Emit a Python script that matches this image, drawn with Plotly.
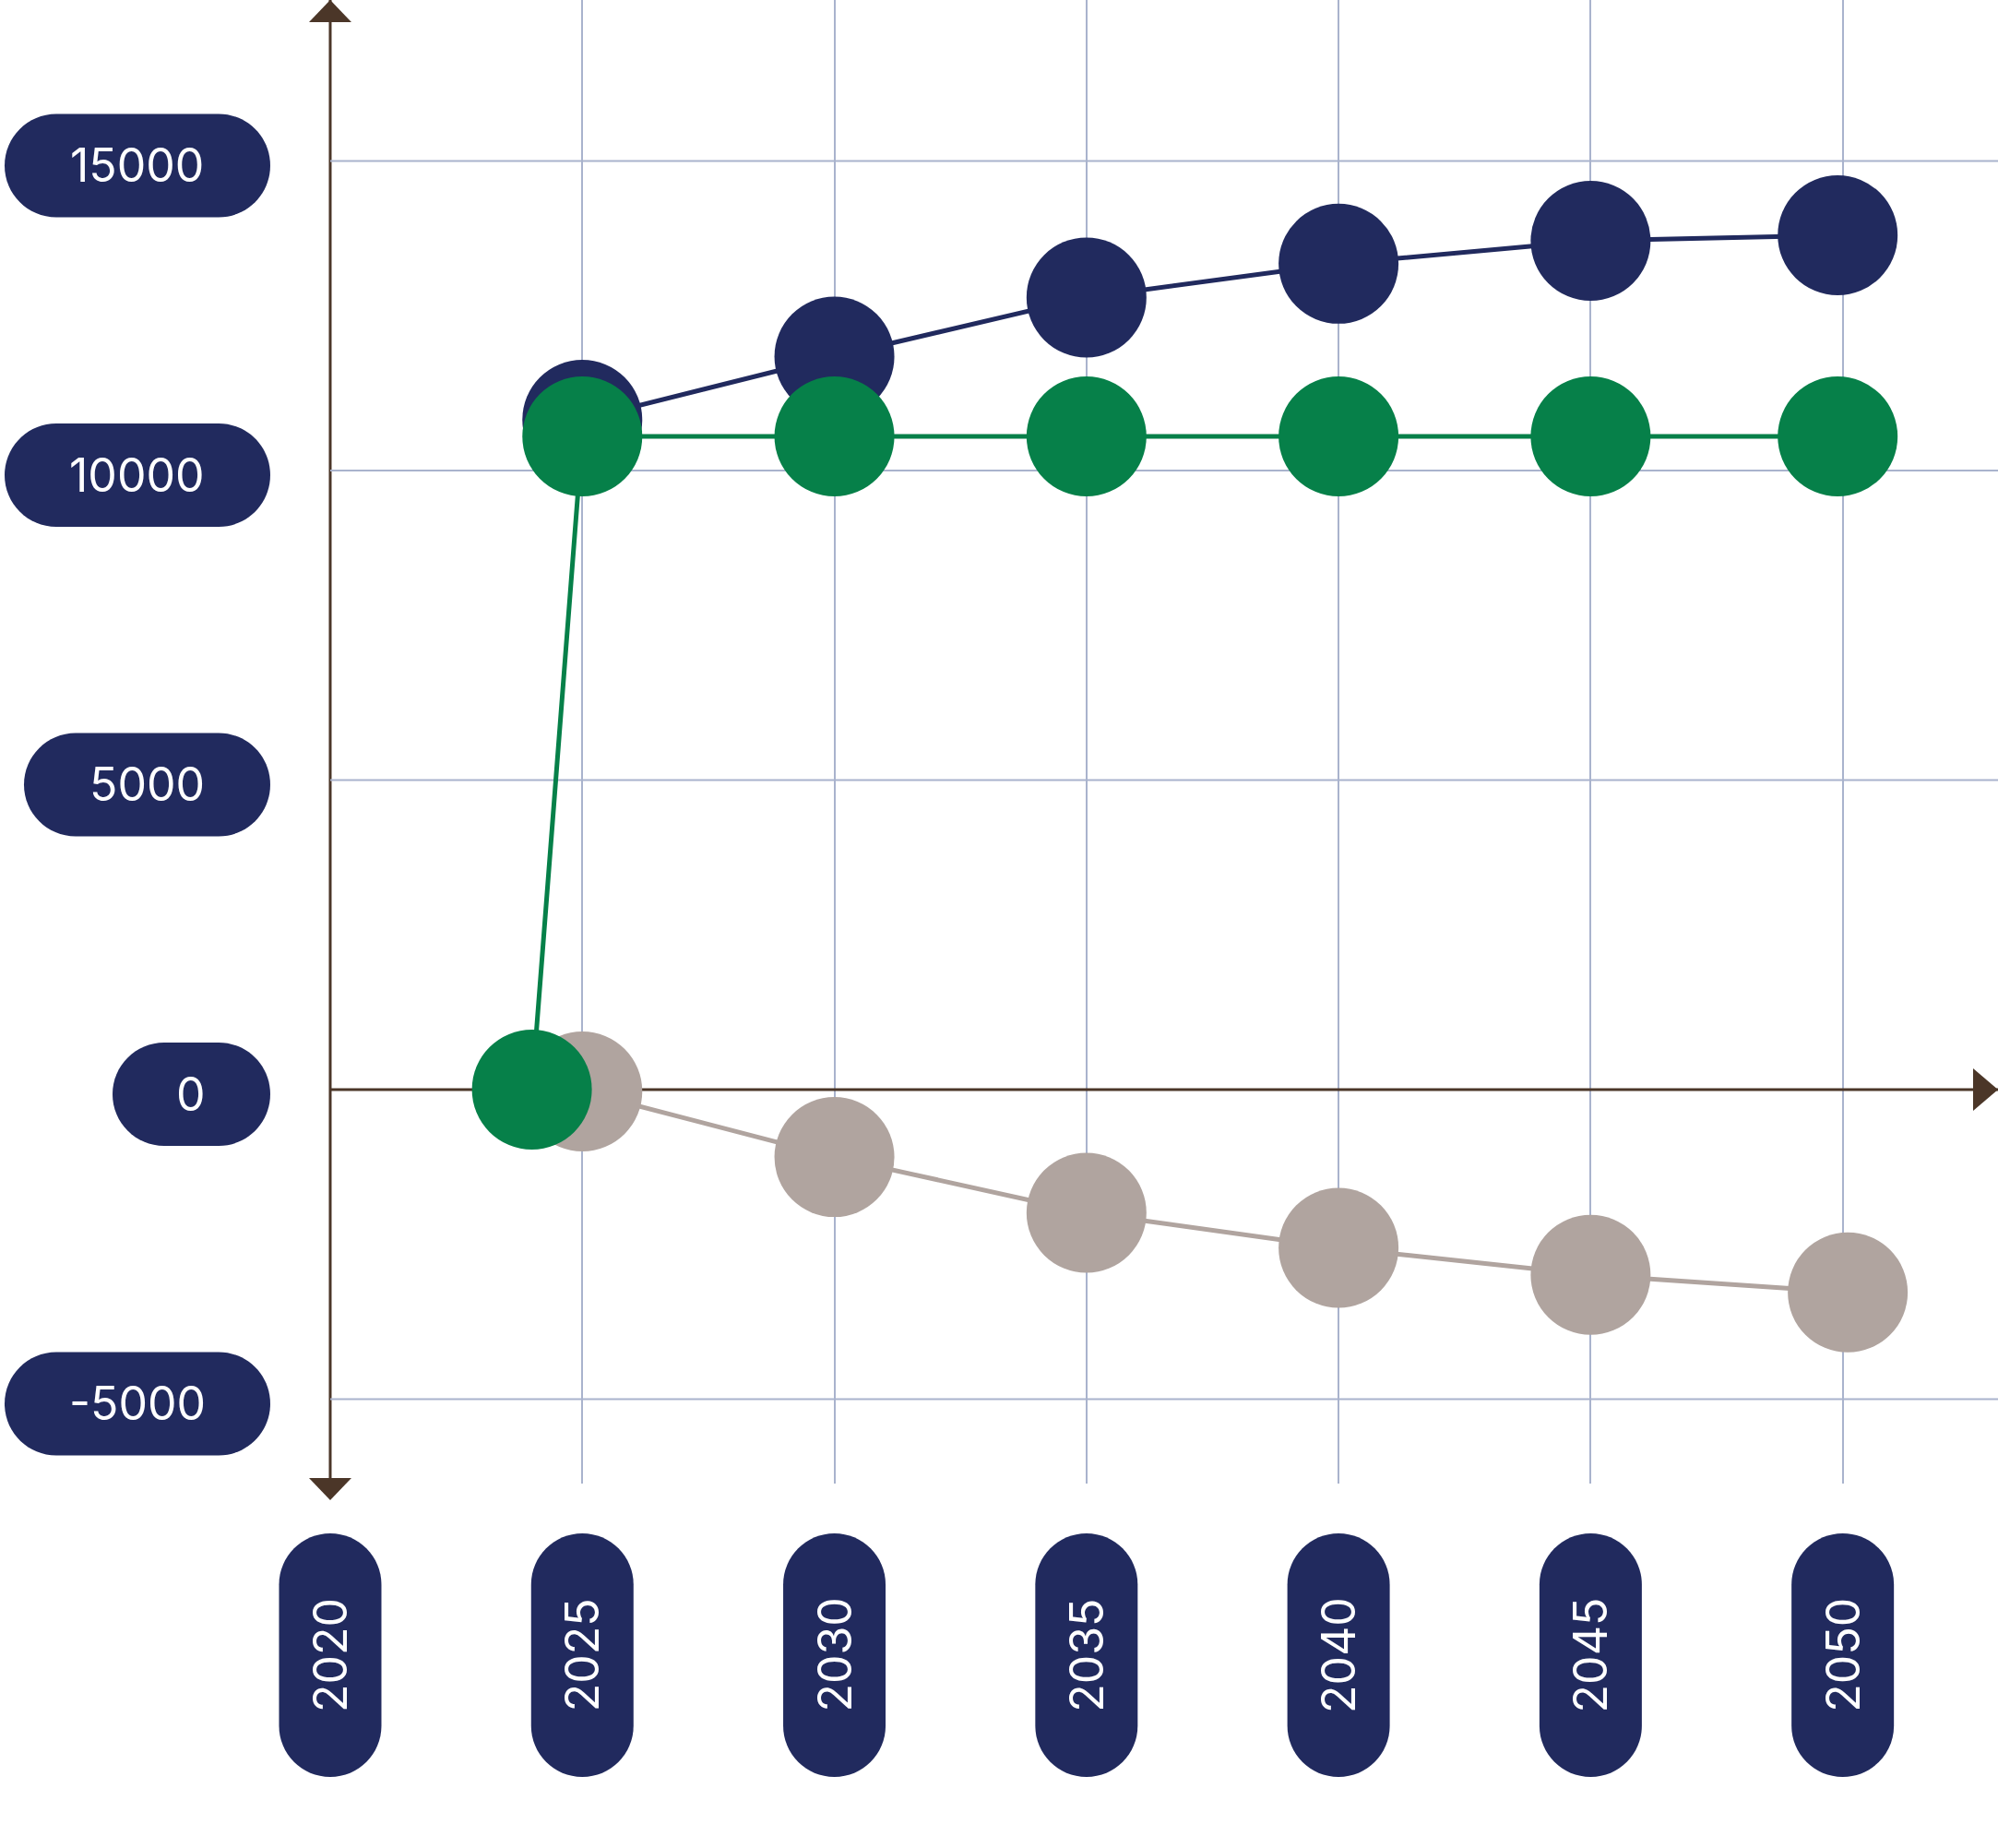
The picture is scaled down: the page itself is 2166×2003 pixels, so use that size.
import plotly.graph_objects as go

# ---------------- data ----------------
X_TICKS = [2020, 2025, 2030, 2035, 2040, 2045, 2050]
X_TICK_LABELS = ["2020", "2025", "2030", "2035", "2040", "2045", "2050"]
Y_TICKS = [15000, 10000, 5000, 0, -5000]
Y_TICK_LABELS = ["15000", "10000", "5000", "0", "-5000"]

NAVY_X = [2025, 2030, 2035, 2040, 2045, 2049.9]
NAVY_Y = [10820, 11840, 12795, 13340, 13710, 13800]

GRAY_X = [2025, 2030, 2035, 2040, 2045, 2050.1]
GRAY_Y = [-30, -1090, -1990, -2556, -2993, -3276]

GREEN_X = [2024, 2025, 2030, 2035, 2040, 2045, 2049.9]
GREEN_Y = [0, 10550, 10550, 10550, 10550, 10550, 10550]

# ---------------- style ----------------
NAVY = "#212A5E"
GREEN = "#068049"
GRAY = "#B0A49F"
GRID = "#A9B3CD"
AXIS = "#4B3628"
FONT = "Inter"

W, H = 2166, 2003
X_RANGE = [2013.45, 2053.08]
Y_RANGE = [-6364, 17600]
MARGIN_B = 395


def pill_path(cx, cy, w, h):
    """Stadium outline (pixel units) using cubic quarter-circle arcs."""
    r = min(w, h) / 2.0
    k = 0.5523 * r
    x0, x1 = cx - w / 2.0, cx + w / 2.0
    y0, y1 = cy - h / 2.0, cy + h / 2.0
    pts = [
        f"M {x0 + r:.2f},{y0:.2f}",
        f"L {x1 - r:.2f},{y0:.2f}",
        f"C {x1 - r + k:.2f},{y0:.2f} {x1:.2f},{y0 + r - k:.2f} {x1:.2f},{y0 + r:.2f}",
        f"L {x1:.2f},{y1 - r:.2f}",
        f"C {x1:.2f},{y1 - r + k:.2f} {x1 - r + k:.2f},{y1:.2f} {x1 - r:.2f},{y1:.2f}",
        f"L {x0 + r:.2f},{y1:.2f}",
        f"C {x0 + r - k:.2f},{y1:.2f} {x0:.2f},{y1 - r + k:.2f} {x0:.2f},{y1 - r:.2f}",
        f"L {x0:.2f},{y0 + r:.2f}",
        f"C {x0:.2f},{y0 + r - k:.2f} {x0 + r - k:.2f},{y0:.2f} {x0 + r:.2f},{y0:.2f}",
        "Z",
    ]
    return " ".join(pts)


def label_width(txt):
    cw = {"1": 21, "-": 21}
    return 139 + sum(cw.get(c, 32) for c in txt)


fig = go.Figure()

fig.add_trace(go.Scatter(
    x=NAVY_X, y=NAVY_Y, mode="lines+markers",
    line=dict(color=NAVY, width=5),
    marker=dict(color=NAVY, size=130, line=dict(width=0)),
    showlegend=False, hoverinfo="skip"))
fig.add_trace(go.Scatter(
    x=GRAY_X, y=GRAY_Y, mode="lines+markers",
    line=dict(color=GRAY, width=5),
    marker=dict(color=GRAY, size=130, line=dict(width=0)),
    showlegend=False, hoverinfo="skip"))
fig.add_trace(go.Scatter(
    x=GREEN_X, y=GREEN_Y, mode="lines+markers",
    line=dict(color=GREEN, width=5),
    marker=dict(color=GREEN, size=130, line=dict(width=0)),
    showlegend=False, hoverinfo="skip"))

shapes = []
annotations = []

# horizontal grid lines (start at the y axis)
for v in Y_TICKS:
    if v == 0:
        continue
    shapes.append(dict(type="line", xref="x", yref="y", x0=X_TICKS[0], x1=X_RANGE[1],
                       y0=v, y1=v, line=dict(color=GRID, width=2), layer="below"))

# axes
shapes.append(dict(type="line", xref="x", yref="paper", x0=X_TICKS[0], x1=X_TICKS[0],
                   y0=0, y1=1, line=dict(color=AXIS, width=3), layer="between"))
shapes.append(dict(type="line", xref="x", yref="y", x0=X_TICKS[0], x1=X_RANGE[1],
                   y0=0, y1=0, line=dict(color=AXIS, width=3), layer="between"))
# arrow heads
shapes.append(dict(type="path", xref="x", yref="paper", xsizemode="pixel", ysizemode="pixel",
                   xanchor=X_TICKS[0], yanchor=1, path="M -23,-24 L 23,-24 L 0,0 Z",
                   fillcolor=AXIS, line=dict(width=0), layer="above"))
shapes.append(dict(type="path", xref="x", yref="paper", xsizemode="pixel", ysizemode="pixel",
                   xanchor=X_TICKS[0], yanchor=0, path="M -23,6 L 23,6 L 0,-18 Z",
                   fillcolor=AXIS, line=dict(width=0), layer="above"))
shapes.append(dict(type="path", xref="paper", yref="y", xsizemode="pixel", ysizemode="pixel",
                   xanchor=1, yanchor=0, path="M -27,23 L -27,-23 L 0,0 Z",
                   fillcolor=AXIS, line=dict(width=0), layer="above"))

# y tick pills
for v, txt in zip(Y_TICKS, Y_TICK_LABELS):
    w = label_width(txt)
    cx = -65 - w / 2.0
    shapes.append(dict(type="path", xref="x", yref="y", xsizemode="pixel", ysizemode="pixel",
                       xanchor=X_TICKS[0], yanchor=v, path=pill_path(cx, -5, w, 112),
                       fillcolor=NAVY, line=dict(width=0), layer="above"))
    annotations.append(dict(xref="x", yref="y", x=X_TICKS[0], y=v, text=txt,
                            showarrow=False, xanchor="center", yanchor="middle",
                            xshift=cx, yshift=-5,
                            font=dict(family=FONT, size=50, color="white")))

# x tick pills
for v, txt in zip(X_TICKS, X_TICK_LABELS):
    shapes.append(dict(type="path", xref="x", yref="paper", xsizemode="pixel", ysizemode="pixel",
                       xanchor=v, yanchor=0, path=pill_path(0, -186, 111, 264),
                       fillcolor=NAVY, line=dict(width=0), layer="above"))
    annotations.append(dict(xref="x", yref="paper", x=v, y=0, text=txt, textangle=-90,
                            showarrow=False, xanchor="center", yanchor="middle",
                            yshift=-186,
                            font=dict(family=FONT, size=50, color="white")))

fig.update_layout(
    width=W, height=H,
    margin=dict(l=0, r=0, t=0, b=MARGIN_B, pad=0),
    paper_bgcolor="white", plot_bgcolor="white",
    shapes=shapes, annotations=annotations,
    xaxis=dict(range=X_RANGE, tickvals=X_TICKS[1:], showticklabels=False, ticks="",
               showgrid=True, gridcolor=GRID, gridwidth=2, zeroline=False, showline=False,
               fixedrange=True),
    yaxis=dict(range=Y_RANGE, showticklabels=False, ticks="", showgrid=False,
               zeroline=False, showline=False, fixedrange=True),
    font=dict(family=FONT),
)

fig.write_html("out.html", config={"displayModeBar": False},
               post_script="document.body.style.margin='0';document.body.style.overflow='hidden';")
